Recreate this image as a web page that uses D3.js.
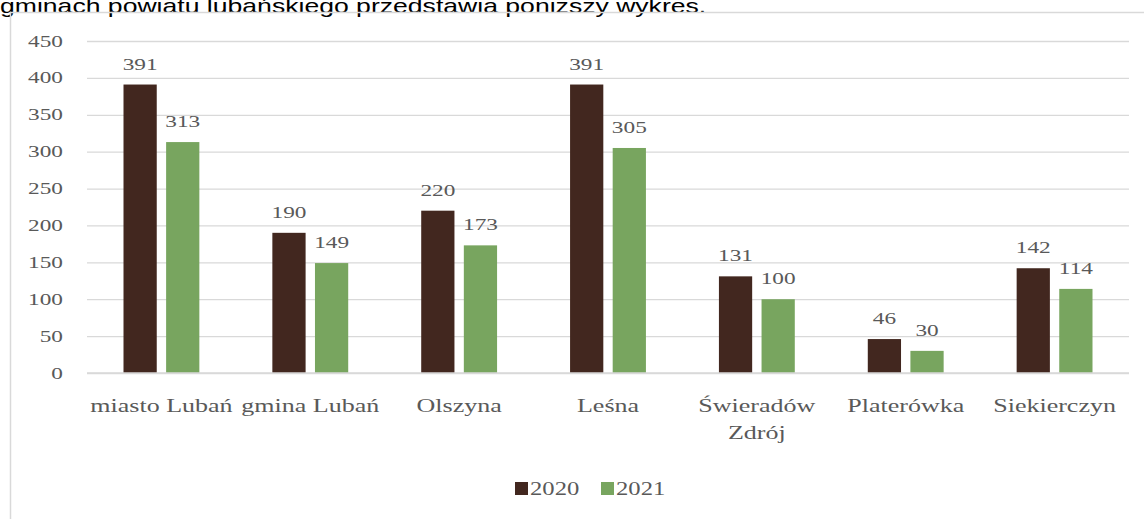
<!DOCTYPE html>
<html>
<head>
<meta charset="utf-8">
<script src="https://cdn.jsdelivr.net/npm/d3@7"></script>
<style>
  body { margin: 0; background: #fff; }
  svg { display: block; }
  text { fill: #595959; font-family: "Liberation Serif", serif; }
</style>
</head>
<body>
<svg id="chart"></svg>
<script>
// data
var categories = ['miasto Lubań', 'gmina Lubań', 'Olszyna', 'Leśna', 'Świeradów Zdrój', 'Platerówka', 'Siekierczyn'];
var values2020 = [391, 190, 220, 391, 131, 46, 142];
var values2021 = [313, 149, 173, 305, 100, 30, 114];
var seriesNames = ['2020', '2021'];
var yTicks = [0, 50, 100, 150, 200, 250, 300, 350, 400, 450];

var width = 1144;
var height = 519;
var colors = ['#42271f', '#78a55f'];
var sx = 1.37; // the picture is wider than tall, stretch the text the same way

var svg = d3.select('#chart')
  .attr('width', width)
  .attr('height', height);

// caption line cut off at top of the picture
svg.append('text')
  .attr('transform', 'translate(0,13) scale(1.33,1)')
  .style('font-family', '"Liberation Sans", Arial, sans-serif')
  .style('font-size', '20px')
  .style('fill', '#000')
  .text('gminach powiatu lubańskiego przedstawia poniższy wykres.');

// chart frame
svg.append('path')
  .attr('d', 'M10.5,' + height + 'V12.5H' + width)
  .attr('fill', 'none')
  .attr('stroke', '#d9d9d9')
  .attr('stroke-width', 1.5);

var plotLeft = 87, plotRight = 1129, plotTop = 41, plotBottom = 373;

var x0 = d3.scaleBand()
  .domain(categories)
  .range([plotLeft, plotRight])
  .paddingInner(0)
  .paddingOuter(0);

var x1 = d3.scaleBand()
  .domain(seriesNames)
  .range([36.5, x0.bandwidth() - 36.5])
  .paddingInner(0.22);

var y = d3.scaleLinear()
  .domain([0, 450])
  .range([plotBottom, plotTop]);

// grid + y labels
var yAxis = d3.axisLeft(y)
  .tickValues(yTicks)
  .tickSize(-(plotRight - plotLeft))
  .tickPadding(0);

var gy = svg.append('g')
  .attr('transform', 'translate(' + plotLeft + ',0)')
  .call(yAxis);
gy.select('.domain').remove();
gy.selectAll('.tick line')
  .attr('stroke', '#d9d9d9')
  .attr('stroke-width', 1.3);
gy.selectAll('.tick text')
  .attr('x', 0)
  .attr('dy', null)
  .attr('transform', 'translate(-24,5) scale(' + sx + ',1)')
  .style('font-size', '17px')
  .style('fill', '#595959')
  .style('font-family', '"Liberation Serif", serif');

var groups = svg.append('g')
  .selectAll('g')
  .data(categories)
  .join('g')
  .attr('transform', d => 'translate(' + x0(d) + ',0)');

var rows = categories.map((c, i) => [
  { s: seriesNames[0], v: values2020[i] },
  { s: seriesNames[1], v: values2021[i] }
]);

groups.selectAll('rect')
  .data((d, i) => rows[i])
  .join('rect')
  .attr('x', d => x1(d.s))
  .attr('y', d => y(d.v))
  .attr('width', x1.bandwidth())
  .attr('height', d => plotBottom - y(d.v))
  .attr('fill', (d, i) => colors[i]);

groups.selectAll('text.val')
  .data((d, i) => rows[i])
  .join('text')
  .attr('class', 'val')
  .attr('text-anchor', 'middle')
  .attr('transform', d => 'translate(' + (x1(d.s) + x1.bandwidth() / 2) + ',' + (y(d.v) - 15) + ') scale(' + sx + ',1)')
  .style('font-size', '17px')
  .text(d => d.v);

// x axis line
svg.append('line')
  .attr('x1', plotLeft).attr('x2', plotRight)
  .attr('y1', plotBottom).attr('y2', plotBottom)
  .attr('stroke', '#d9d9d9')
  .attr('stroke-width', 1.5);

// category labels, wrapped like the original
var labelLines = {
  'Świeradów Zdrój': ['Świeradów', 'Zdrój']
};
groups.each(function (d) {
  var lines = labelLines[d] || [d];
  var g = d3.select(this);
  lines.forEach(function (ln, k) {
    g.append('text')
      .attr('text-anchor', 'middle')
      .attr('transform', 'translate(' + (x0.bandwidth() / 2) + ',' + (412 + k * 27) + ') scale(' + sx + ',1)')
      .style('font-size', '19px')
      .text(ln);
  });
});

// legend
var legend = svg.append('g')
  .attr('transform', 'translate(515,482)');
var legendX = [0, 86];
seriesNames.forEach(function (s, i) {
  var lg = legend.append('g').attr('transform', 'translate(' + legendX[i] + ',0)');
  lg.append('rect')
    .attr('width', 13).attr('height', 13)
    .attr('fill', colors[i]);
  lg.append('text')
    .attr('transform', 'translate(15,13) scale(' + sx + ',1)')
    .style('font-size', '18px')
    .text(s);
});
</script>
</body>
</html>
